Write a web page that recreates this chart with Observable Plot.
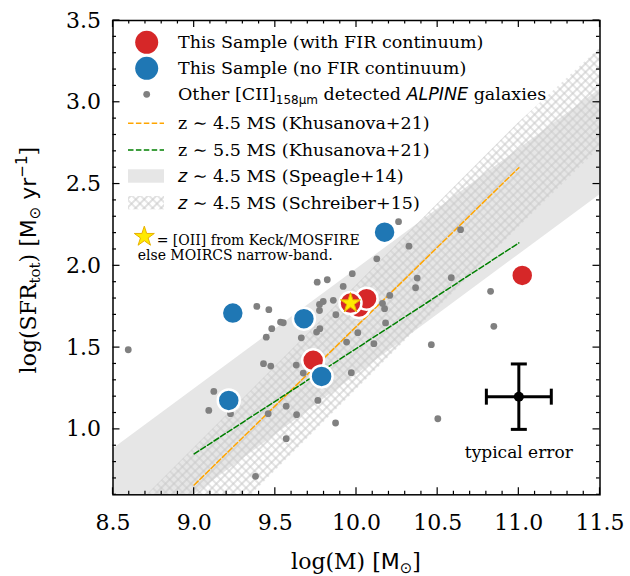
<!DOCTYPE html>
<html><head><meta charset="utf-8">
<script src="https://cdn.jsdelivr.net/npm/d3@7"></script>
<script src="https://cdn.jsdelivr.net/npm/@observablehq/plot@0.6"></script>
<style>body{margin:0;background:#fff} svg{font-family:"DejaVu Serif";}</style>
</head><body><div id="chart"></div>
<script>
// ---- data ----
const otherMass = [8.594, 9.121, 9.090, 9.224, 9.386, 9.460, 9.478, 9.444, 9.427, 9.472, 9.456, 9.567, 9.567, 9.378, 9.532, 9.549, 9.631, 9.629, 9.660, 9.672, 9.758, 9.820, 9.772, 9.795, 9.772, 9.754, 9.774, 9.762, 9.871, 9.857, 9.873, 9.918, 9.974, 9.939, 9.968, 10.008, 10.107, 10.125, 10.160, 10.179, 10.205, 10.259, 10.173, 10.323, 10.374, 10.364, 10.584, 10.461, 10.826, 10.846, 10.501, 10.641];
const otherSFR  = [1.487, 1.232, 1.116, 1.096, 1.752, 1.732, 1.616, 1.564, 1.402, 1.387, 1.096, 1.142, 0.943, 0.713, 1.656, 1.652, 1.090, 1.393, 1.560, 1.344, 1.900, 1.915, 1.764, 1.782, 1.727, 1.595, 1.616, 1.177, 1.039, 1.789, 1.701, 1.874, 1.952, 1.534, 1.347, 1.591, 1.524, 2.043, 1.770, 1.651, 1.819, 2.270, 1.738, 2.120, 1.925, 1.866, 1.927, 1.518, 1.844, 1.630, 1.065, 2.221];
const firMass = [9.733, 10.015, 10.062, 9.963, 11.021];
const firSFR  = [1.422, 1.748, 1.799, 1.772, 1.941];
const noFirMass = [9.213, 9.238, 9.676, 9.785, 10.173];
const noFirSFR  = [1.177, 1.711, 1.677, 1.324, 2.206];
const starMass = [9.963];
const starSFR  = [1.772];
const khus45Mass = [9.0, 11.0];
const khus45SFR  = [0.66, 2.60];
const khus55Mass = [9.0, 11.0];
const khus55SFR  = [0.85, 2.14];
const speagleMass = [8.5, 11.5];
const speagleLo   = [0.233, 2.435];
const speagleHi   = [0.88, 3.08];
const schreiberMass = [8.5, 11.0, 11.5];
const schreiberLo   = [-0.25, 2.235, 2.72];
const schreiberHi   = [0.39, 2.875, 3.33];
const errMass = [11.0], errSFR = [1.2], errDM = [0.2], errDS = [0.2];
const xTicks = [8.5, 9.0, 9.5, 10.0, 10.5, 11.0, 11.5];
const yTicks = [1.0, 1.5, 2.0, 2.5, 3.0, 3.5];

// ---- tables ----
const others = otherMass.map((m, i) => ({m, s: otherSFR[i]}));
const fir = firMass.map((m, i) => ({m, s: firSFR[i]}));
const noFir = noFirMass.map((m, i) => ({m, s: noFirSFR[i]}));
const star = starMass.map((m, i) => ({m, s: starSFR[i]}));
const k45 = khus45Mass.map((m, i) => ({m, s: khus45SFR[i]}));
const k55 = khus55Mass.map((m, i) => ({m, s: khus55SFR[i]}));
const speagle = speagleMass.map((m, i) => ({m, lo: speagleLo[i], hi: speagleHi[i]}));
const schreiber = schreiberMass.map((m, i) => ({m, lo: schreiberLo[i], hi: schreiberHi[i]}));
const err = errMass.map((m, i) => ({m, s: errSFR[i], dm: errDM[i], ds: errDS[i]}));

const hCap = {draw(ctx, size) { const r = Math.sqrt(size / Math.PI); ctx.moveTo(-r, 0); ctx.lineTo(r, 0); }};
const vCap = {draw(ctx, size) { const r = Math.sqrt(size / Math.PI); ctx.moveTo(0, -r); ctx.lineTo(0, r); }};

const chart = Plot.plot({
  width: 630, height: 576,
  marginLeft: 112.5, marginRight: 30.5, marginTop: 20, marginBottom: 81.7,
  x: {domain: [8.5, 11.5]},
  y: {domain: [0.6, 3.5]},
  style: {fontFamily: "DejaVu Serif", background: "white", overflow: "visible"},
  marks: [
    Plot.areaY(speagle, {x: "m", y1: "lo", y2: "hi", fill: "#e6e6e6", clip: true}),
    Plot.areaY(schreiber, {x: "m", y1: "lo", y2: "hi", fill: "url(#hatchX)", clip: true}),
    Plot.line(k45, {x: "m", y: "s", stroke: "orange", strokeWidth: 1.5, strokeDasharray: "5.5,2.4"}),
    Plot.line(k55, {x: "m", y: "s", stroke: "green", strokeWidth: 1.5, strokeDasharray: "5.5,2.4"}),
    Plot.dot(others, {x: "m", y: "s", r: 3.4, fill: "#808080"}),
    Plot.dot(fir, {x: "m", y: "s", r: 11, fill: "#d62728", stroke: "white", strokeWidth: 2.5}),
    Plot.dot(noFir, {x: "m", y: "s", r: 11, fill: "#1f77b4", stroke: "white", strokeWidth: 2.5}),
    Plot.dot(star, {x: "m", y: "s", symbol: "star", r: 6.3, fill: "#ffea00", stroke: "#e8b000", strokeWidth: 1}),
    Plot.ruleX(err, {x: "m", y1: d => d.s - d.ds, y2: d => d.s + d.ds, stroke: "black", strokeWidth: 3}),
    Plot.ruleY(err, {y: "s", x1: d => d.m - d.dm, x2: d => d.m + d.dm, stroke: "black", strokeWidth: 3}),
    Plot.dot(err, {x: "m", y: d => d.s + d.ds, symbol: hCap, r: 8, stroke: "black", strokeWidth: 3}),
    Plot.dot(err, {x: "m", y: d => d.s - d.ds, symbol: hCap, r: 8, stroke: "black", strokeWidth: 3}),
    Plot.dot(err, {x: d => d.m - d.dm, y: "s", symbol: vCap, r: 8, stroke: "black", strokeWidth: 3}),
    Plot.dot(err, {x: d => d.m + d.dm, y: "s", symbol: vCap, r: 8, stroke: "black", strokeWidth: 3}),
    Plot.dot(err, {x: "m", y: "s", r: 5, fill: "black"}),
    Plot.text(err, {x: "m", y: "s", text: () => "typical error", dy: 56, fontSize: 17, fill: "black"}),
    Plot.frame({stroke: "black", strokeWidth: 1.5}),
    Plot.axisX({ticks: xTicks, tickSize: 0, tickPadding: 20, fontSize: 22, tickFormat: d3.format(".1f"), label: null}),
    Plot.axisY({ticks: yTicks, tickSize: 0, tickPadding: 12, fontSize: 22, tickFormat: d3.format(".1f"), label: null})
  ]
});
document.getElementById("chart").appendChild(chart);

// ---- decorations using the Plot scales ----
const svg = d3.select(chart);
const defs = svg.insert("defs", ":first-child");
const pat = defs.append("pattern").attr("id", "hatchX").attr("patternUnits", "userSpaceOnUse")
  .attr("width", 6).attr("height", 6).attr("patternTransform", "rotate(45)");
pat.append("path").attr("d", "M3,0V6M0,3H6").attr("stroke", "#cbcbcb").attr("stroke-width", 1.2).attr("fill", "none");

const xs = chart.scale("x"), ys = chart.scale("y");
const X = v => xs.apply(v), Y = v => ys.apply(v);
const tg = svg.append("g").attr("stroke", "black").attr("stroke-width", 1.2);
const isMaj = (t, arr) => arr.some(a => Math.abs(a - t) < 1e-6);
const bx0 = X(8.5), bx1 = X(11.5), by0 = Y(0.6), by1 = Y(3.5);
for (const t of d3.range(85, 116).map(v => v / 10)) {
  const L = isMaj(t, xTicks) ? 7 : 3.5;
  tg.append("line").attr("x1", X(t)).attr("x2", X(t)).attr("y1", by0).attr("y2", by0 - L);
  tg.append("line").attr("x1", X(t)).attr("x2", X(t)).attr("y1", by1).attr("y2", by1 + L);
}
for (const t of d3.range(6, 36).map(v => v / 10)) {
  const L = isMaj(t, yTicks) ? 7 : 3.5;
  tg.append("line").attr("y1", Y(t)).attr("y2", Y(t)).attr("x1", bx0).attr("x2", bx0 + L);
  tg.append("line").attr("y1", Y(t)).attr("y2", Y(t)).attr("x1", bx1).attr("x2", bx1 - L);
}

// axis labels
const xl = svg.append("text").attr("x", (bx0 + bx1) / 2).attr("y", 569).attr("text-anchor", "middle")
  .attr("font-size", 22).attr("font-family", "DejaVu Serif").attr("fill", "black");
xl.append("tspan").text("log(M) [");
xl.append("tspan").attr("font-family", "DejaVu Sans").text("M");
xl.append("tspan").attr("font-family", "DejaVu Sans").attr("font-size", 15).attr("dy", 4).text("⊙");
xl.append("tspan").attr("dy", -4).text("]");

const yl = svg.append("text").attr("transform", `translate(36,${(by0 + by1) / 2 + 3}) rotate(-90)`)
  .attr("text-anchor", "middle").attr("font-size", 22).attr("font-family", "DejaVu Serif").attr("fill", "black");
yl.append("tspan").text("log(SFR");
yl.append("tspan").attr("font-size", 15).attr("dy", 4).text("tot");
yl.append("tspan").attr("dy", -4).text(") [");
yl.append("tspan").attr("font-family", "DejaVu Sans").text("M");
yl.append("tspan").attr("font-family", "DejaVu Sans").attr("font-size", 15).attr("dy", 4).text("⊙");
yl.append("tspan").attr("font-family", "DejaVu Sans").attr("dy", -4).text(" yr");
yl.append("tspan").attr("font-family", "DejaVu Sans").attr("font-size", 15).attr("dy", -9).text("−1");
yl.append("tspan").attr("dy", 9).text("]");

// legend
const lg = svg.append("g").attr("font-family", "DejaVu Serif").attr("font-size", 17.5).attr("fill", "black").attr("text-anchor", "start");
const mx = 146.7, tx = 178, rows = [42.3, 68.3, 94.3, 123.3, 150, 176, 202.7];
lg.append("circle").attr("cx", mx).attr("cy", rows[0]).attr("r", 11.5).attr("fill", "#d62728");
lg.append("circle").attr("cx", mx).attr("cy", rows[1]).attr("r", 11.5).attr("fill", "#1f77b4");
lg.append("circle").attr("cx", mx).attr("cy", rows[2]).attr("r", 3.4).attr("fill", "#808080");
lg.append("line").attr("x1", 128).attr("x2", 164).attr("y1", rows[3]).attr("y2", rows[3]).attr("stroke", "orange").attr("stroke-width", 1.5).attr("stroke-dasharray", "5.5,2.4");
lg.append("line").attr("x1", 128).attr("x2", 164).attr("y1", rows[4]).attr("y2", rows[4]).attr("stroke", "green").attr("stroke-width", 1.5).attr("stroke-dasharray", "5.5,2.4");
lg.append("rect").attr("x", 128).attr("y", rows[5] - 6.7).attr("width", 36).attr("height", 13.4).attr("fill", "#e6e6e6");
lg.append("rect").attr("x", 128).attr("y", rows[6] - 6.7).attr("width", 36).attr("height", 13.4).attr("fill", "url(#hatchX)");
const ltext = (i) => lg.append("text").attr("x", tx).attr("y", rows[i] + 6).attr("text-anchor", "start");
ltext(0).text("This Sample (with FIR continuum)");
ltext(1).text("This Sample (no FIR continuum)");
const t2 = ltext(2);
t2.append("tspan").text("Other [CII]");
t2.append("tspan").attr("font-family", "DejaVu Sans").attr("font-size", 12).attr("dy", 4).text("158μm");
t2.append("tspan").attr("dy", -4).text(" detected ");
t2.append("tspan").attr("font-family", "DejaVu Sans").attr("font-style", "italic").text("ALPINE");
t2.append("tspan").text(" galaxies");
ltext(3).text("z ∼ 4.5 MS (Khusanova+21)");
ltext(4).text("z ∼ 5.5 MS (Khusanova+21)");
for (const [i, ref] of [[5, "(Speagle+14)"], [6, "(Schreiber+15)"]]) {
  const t = ltext(i);
  t.append("tspan").attr("font-family", "DejaVu Sans").attr("font-style", "italic").text("z");
  t.append("tspan").attr("font-family", "DejaVu Sans").text(" ∼ ");
  t.append("tspan").text("4.5 MS " + ref);
}
// star note
const starSym = d3.symbol(d3.symbolStar, Math.PI * 6.3 * 6.3)();
lg.append("path").attr("d", starSym).attr("transform", "translate(144.3,236.7)").attr("fill", "#ffea00").attr("stroke", "#e8b000").attr("stroke-width", 1);
lg.append("text").attr("x", 156.7).attr("y", 245).attr("font-size", 14).attr("text-anchor", "start").text("= [OII] from Keck/MOSFIRE");
lg.append("text").attr("x", 137.7).attr("y", 260).attr("font-size", 14).attr("text-anchor", "start").text("else MOIRCS narrow-band.");
</script>
</body></html>
